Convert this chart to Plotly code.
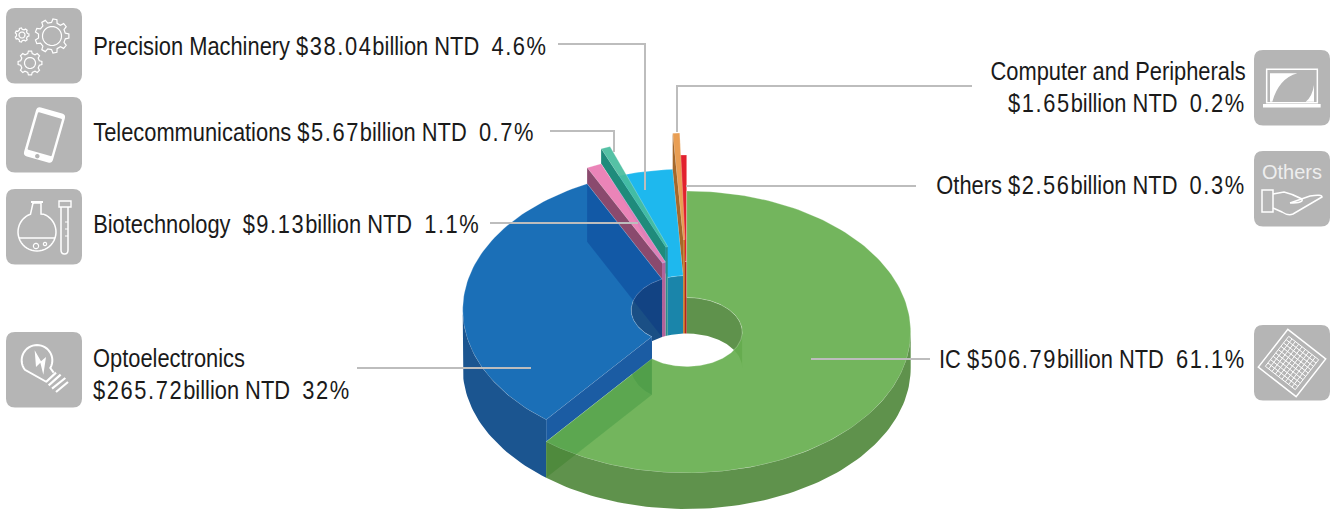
import math, re
import plotly.graph_objects as go

# ---- data ----
names = ["IC", "Optoelectronics", "Biotechnology", "Telecommunications",
         "Precision Machinery", "Computer and Peripherals", "Others"]
billions = [506.79, 265.72, 9.13, 5.67, 38.04, 1.65, 2.56]
percent_labels = ["61.1%", "32%", "1.1%", "0.7%", "4.6%", "0.2%", "0.3%"]
lift_levels = [0, 22, 38, 53, 22, 58, 36]   # raised height of each slice

top_colors = ["rgba(103,175,79,.92)", "rgba(2,95,175,.9)", "rgba(234,125,180,.95)",
              "rgba(70,188,157,.92)", "rgba(26,183,238,.98)", "rgba(232,153,74,.95)", "rgba(225,29,42,.98)"]
wall_colors = ["#5f924c", "#1b5ca3", "#8a4a6e", "#1f8b7b", "#1a85aa", "#a5682a", "#a01a20"]
inner_colors = ["#5f924c", "#1a4f85", "#b0629a", "#2a8f8a", "#1a85aa", "#c5701e", "#b82020"]

CX, CY = 686.7, 332.0
RX, RY = 224.0, 141.0
HX, HY = 55.5, 34.5
DEPTH = 36.0
MIN_SWEEP = 1.8
GREY = "#bdbdbd"
ICON = "#b5b5b5"

total = sum(billions)
sweeps = [max(v / total * 360, MIN_SWEEP) for v in billions]
scale = 360 / sum(sweeps)
sweeps = [s * scale for s in sweeps]
starts = [sum(sweeps[:i]) for i in range(len(sweeps))]
ends = [a + s for a, s in zip(starts, sweeps)]


def arc(a0, a1, rx, ry, cy, n=None):
    n = n or max(2, int(abs(a1 - a0) / 1.5) + 2)
    xs, ys = [], []
    for k in range(n):
        t = math.radians(a0 + (a1 - a0) * k / (n - 1))
        xs.append(CX + rx * math.sin(t))
        ys.append(cy - ry * math.cos(t))
    return xs, ys


fig = go.Figure()


def poly(xs, ys, color, edge=None):
    fig.add_trace(go.Scatter(
        x=xs + xs[:1], y=ys + ys[:1], mode="lines", fill="toself", fillcolor=color,
        line=dict(color=edge or "rgba(0,0,0,0)", width=0.7 if edge else 0),
        hoverinfo="skip", showlegend=False))


def band(a0, a1, rx, ry, cy_top, cy_bottom, color):
    x1, y1 = arc(a0, a1, rx, ry, cy_top)
    x2, y2 = arc(a1, a0, rx, ry, cy_bottom)
    poly(x1 + x2, y1 + y2, color)


def cut(a, top_lift, bottom_y_offset, color):
    x1, y1 = arc(a, a, RX, RY, CY - top_lift, 2)
    xi, yi = arc(a, a, HX, HY, CY - top_lift, 2)
    poly([x1[0], xi[0], xi[0], x1[0]],
         [y1[0], yi[0], yi[0] + bottom_y_offset, y1[0] + bottom_y_offset], color)


def top(i):
    cy = CY - lift_levels[i]
    x1, y1 = arc(starts[i], ends[i], RX, RY, cy)
    x2, y2 = arc(ends[i], starts[i], HX, HY, cy)
    poly(x1 + x2, y1 + y2, top_colors[i], "rgba(255,255,255,.35)")


order = [6, 4, 5, 3, 2, 1, 0]
for i in order:
    L = lift_levels[i]
    cy = CY - L
    if i == 0:   # far part of the hole wall only
        band(starts[0], 92, HX, HY, cy, CY + DEPTH, inner_colors[0])
    else:
        band(starts[i], ends[i], HX, HY, cy, CY + DEPTH, inner_colors[i])
    top(i)
    if i == 1:   # walls seen through the translucent top
        cut(ends[1], L, L + DEPTH, "rgba(0,40,130,.3)")
        cut(starts[1], L, L, wall_colors[1])
        band(starts[1], 270, RX, RY, cy, CY + DEPTH, "#1b5590")
    elif i == 0:
        cut(ends[0], 0, DEPTH, "rgba(57,148,63,.4)")
        band(90, ends[0], RX, RY, CY, CY + DEPTH, "rgba(55,119,31,.8)")
    else:
        # wall standing over the left-hand neighbour
        neighbour = lift_levels[i - 1]
        if L > neighbour:
            cut(starts[i], L, L - neighbour, wall_colors[i])

# ---- labels ----


def styled(s):
    return re.sub(r"([$0-9.%]+)",
                  lambda m: "<span style=\"letter-spacing:1.8px\">" + m.group(1) + "</span>", s)


def money(i):
    return f"${billions[i]:.2f}billion NTD"


IC, OPTO, BIO, TEL, PRE, COM, OTH = range(7)
ann = []


def label(txt, x, y, anchor="left"):
    ann.append(dict(x=x, y=y, xref="x", yref="y", text=styled(txt), showarrow=False,
                    xanchor=anchor, yanchor="middle",
                    font=dict(family="Liberation Sans", size=25, color="#1a1a1a")))


LEFT, RIGHT = 91, 1248
label(f"{names[PRE]} {money(PRE)}  {percent_labels[PRE]}", LEFT, 46)
label(f"{names[TEL]} {money(TEL)}  {percent_labels[TEL]}", LEFT, 132)
label(f"{names[BIO]}  {money(BIO)}  {percent_labels[BIO]}", LEFT, 224)
label(names[OPTO], LEFT, 358)
label(f"{money(OPTO)}  {percent_labels[OPTO]}", LEFT, 390)
label(names[COM], RIGHT, 71, "right")
label(f"{money(COM)}  {percent_labels[COM]}", RIGHT, 103, "right")
label(f"{names[OTH]} {money(OTH)}  {percent_labels[OTH]}", RIGHT, 185, "right")
label(f"{names[IC]} {money(IC)}  {percent_labels[IC]}", RIGHT, 359, "right")
ann.append(dict(x=1292, y=172, xref="x", yref="y", text="Others", showarrow=False,
                font=dict(family="Liberation Sans", size=20, color="#eeeeee")))

# ---- leader lines and icons ----
shapes = []


def path(d, stroke=None, fill=None, w=1.6):
    s = dict(type="path", path=d, xref="x", yref="y", layer="above",
             line=dict(color=stroke or "rgba(0,0,0,0)", width=w if stroke else 0))
    if fill:
        s["fillcolor"] = fill
    shapes.append(s)


def pl(pts, close=False):
    return "M" + " L".join(f"{x:.2f},{y:.2f}" for x, y in pts) + (" Z" if close else "")


def leader(pts):
    path(pl(pts), GREY, None, 2)


leader([(558, 44), (645, 44), (645, 190)])
leader([(550, 131), (614, 131), (614, 152)])
leader([(490, 223), (638, 223)])
leader([(357, 368), (531, 368)])
leader([(972, 86), (677, 86), (677, 132)])
leader([(916, 186), (686, 186)])
leader([(811, 359), (930, 359)])


def round_rect(x0, y0, x1, y1, r):
    return (f"M{x0+r},{y0} L{x1-r},{y0} Q{x1},{y0} {x1},{y0+r} L{x1},{y1-r} Q{x1},{y1} {x1-r},{y1} "
            f"L{x0+r},{y1} Q{x0},{y1} {x0},{y1-r} L{x0},{y0+r} Q{x0},{y0} {x0+r},{y0} Z")


def circle(cx, cy, r, ry=None, n=36):
    ry = ry or r
    return [(cx + r * math.cos(2 * math.pi * k / n), cy + ry * math.sin(2 * math.pi * k / n)) for k in range(n + 1)]


def gear(cx, cy, r, hole, teeth=8):
    pts = []
    for k in range(teeth):
        step = 2 * math.pi / teeth
        for frac, rad in ((-.3, r * .8), (-.17, r), (.17, r), (.3, r * .8)):
            a = (k + frac) * step
            pts.append((cx + rad * math.cos(a), cy + rad * math.sin(a)))
    path(pl(pts, True), "white", None, 1.2)
    path(pl(circle(cx, cy, hole)), "white", None, 1.2)


for (x0, y0) in [(6, 8), (6, 97), (6, 189), (6, 332), (1254, 50), (1254, 151), (1254, 325)]:
    path(round_rect(x0, y0, x0 + 76, y0 + 75.5, 9), None, ICON)

gear(52, 36, 17, 9.5, 9)
gear(22, 35, 7, 3, 7)
gear(30, 63, 12, 5.5, 8)


# phone: rotated rounded body with a grey screen
def rotated_round(cx, cy, hw, hh, r, deg):
    t = math.radians(deg)

    def R(u, v):
        return f"{cx + u*math.cos(t) - v*math.sin(t):.2f},{cy + u*math.sin(t) + v*math.cos(t):.2f}"
    return (f"M{R(-hw+r,-hh)} L{R(hw-r,-hh)} Q{R(hw,-hh)} {R(hw,-hh+r)} L{R(hw,hh-r)} Q{R(hw,hh)} {R(hw-r,hh)} "
            f"L{R(-hw+r,hh)} Q{R(-hw,hh)} {R(-hw,hh-r)} L{R(-hw,-hh+r)} Q{R(-hw,-hh)} {R(-hw+r,-hh)} Z")


path(rotated_round(44.5, 135, 15, 25.5, 4, 16), None, "white")
path(rotated_round(44.8, 134.2, 12.5, 19.5, 1, 16), None, ICON)
path(pl(circle(37.3, 156.2, 2.2)), None, ICON)

# flask and test tube
bulb = [(37 + 19 * math.cos(math.radians(a)), 232 + 19 * math.sin(math.radians(a))) for a in range(-70, 251, 8)]
path(pl([(33, 203), (41, 203), (41, 214)] + bulb + [(33, 203)]), "white", None, 1.5)
path(pl([(31, 202), (43, 202)]), "white", None, 2)
path(pl([(19, 238), (55, 238)]), "white", None, 1.5)
path(pl(circle(36, 246, 2.6)), "white", None, 1.2)
path(pl(circle(45, 244, 1.6)), "white", None, 1.2)
path(pl([(59, 201), (71, 201), (71, 207), (59, 207)], True), "white", None, 1.4)
path("M61,207 L61,250 Q61,254 64.5,254 Q68,254 68,250 L68,207", "white", None, 1.5)
path(pl([(65, 222), (68, 222)]) + " " + pl([(65, 229), (68, 229)]) + " " + pl([(65, 236), (68, 236)]), "white", None, 1)


# light bulb, coordinates relative to the 3x crop of its tile
def z(px, py):
    return (6 + px / 3, 332 + py / 3)


bb = [z(93 + 46 * math.cos(math.radians(a)), 85 + 46 * math.sin(math.radians(a))) for a in range(30, 141 - 360, -8)]
path(pl([z(143, 122)] + bb + [z(122, 150)]), "white", None, 2)
path(pl([z(120, 150), z(150, 122)]) + " " + pl([z(128, 160), z(164, 128)]) + " " + pl([z(138, 170), z(178, 138)]) +
     " " + pl([z(150, 180), z(186, 150)]), "white", None, 2.2)
path(pl([z(86, 55), z(90, 105), z(103, 92), z(112, 128), z(120, 75), z(105, 88)], True), None, "white")


# laptop, same idea
def y(px, py):
    return (1254 + px / 3, 50 + py / 3)


path(pl([y(38, 58), y(190, 58), y(190, 158), y(38, 158)], True), "white", None, 1.5)
path(pl([y(27, 167), y(200, 167)]), "white", None, 3.5)
w1 = y(48, 70), y(130, 70), y(75, 85), y(55, 155), y(48, 155)
a, b, c, d, e = w1
path(f"M{a[0]},{a[1]} L{b[0]},{b[1]} Q{c[0]},{c[1]} {d[0]},{d[1]} L{e[0]},{e[1]} Z", None, "white")
a, b, c, d = y(180, 105), y(180, 155), y(155, 155), y(175, 140)
path(f"M{a[0]},{a[1]} L{b[0]},{b[1]} L{c[0]},{c[1]} Q{d[0]},{d[1]} {a[0]},{a[1]} Z", None, "white")

# hand
path(pl([(1262, 190), (1273, 190), (1273, 212), (1262, 212)], True), "white", None, 1.5)
path("M1273,194 L1284,192 Q1293,194 1302,199 Q1304,203 1290,203 M1290,203 L1310,196 Q1322,194 1322,197 "
     "L1293,214 Q1288,216 1282,212 L1273,208", "white", None, 1.5)

# chip
cx, cy = 1292, 363
rot = math.radians(38)


def rp(u, v):
    return (cx + u * math.cos(rot) - v * math.sin(rot), cy + u * math.sin(rot) + v * math.cos(rot))


s = 24
path(pl([rp(-s, -s), rp(s, -s), rp(s, s), rp(-s, s)], True), "white", None, 1.5)
g = 19
d = ""
for k in range(10):
    u = -g + k * 2 * g / 9
    d += pl([rp(u, -g), rp(u, g)]) + " " + pl([rp(-g, u), rp(g, u)]) + " "
path(d.strip(), "white", None, 1)

fig.update_layout(
    width=1338, height=509, autosize=False,
    margin=dict(l=0, r=0, t=0, b=0),
    paper_bgcolor="white", plot_bgcolor="white",
    xaxis=dict(range=[0, 1338], visible=False, fixedrange=True),
    yaxis=dict(range=[509, 0], visible=False, fixedrange=True),
    shapes=shapes, annotations=ann, showlegend=False,
)
narrow = """
document.body.style.margin='0';
function narrow(){document.querySelectorAll('.annotation-text').forEach(function(t){
  if(t.textContent==='Others')return;
  var b=t.getBBox(),r=t.getBoundingClientRect();
  var ax=(r.left+r.width/2<669)?b.x:b.x+b.width;
  t.setAttribute('transform','translate('+ax+' 0) scale(.875 1) translate('+(-ax)+' 0)');
});}
narrow();setTimeout(narrow,150);
"""
fig.write_html("out.html", post_script=narrow, config=dict(displayModeBar=False))
